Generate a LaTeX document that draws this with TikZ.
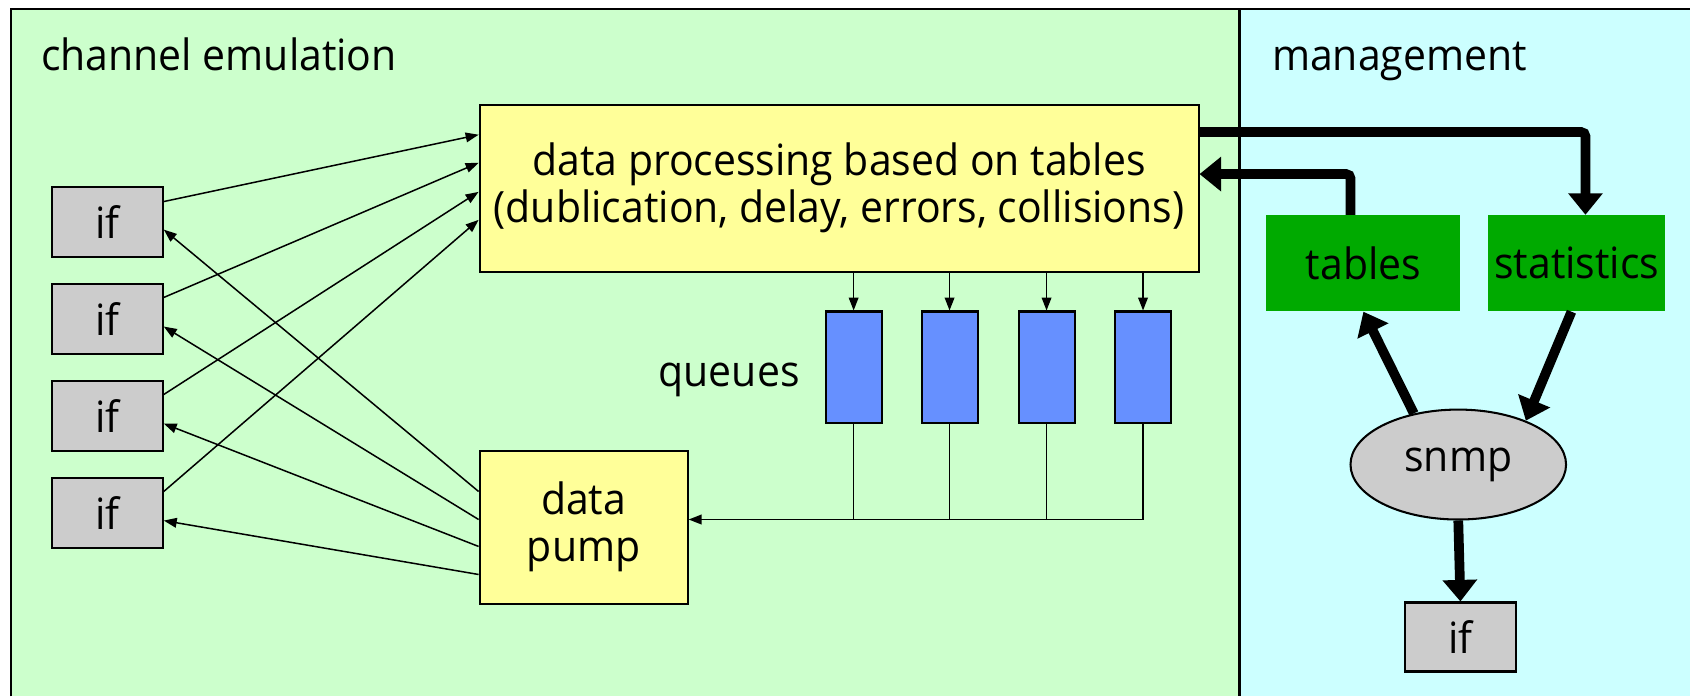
\documentclass[tikz,border=0pt]{standalone}
\usepackage{fontspec}
\setmainfont{Open Sans}[FakeStretch=0.95]
\usetikzlibrary{arrows.meta,shapes.geometric,calc}
\definecolor{emugreen}{HTML}{CCFFCC}
\definecolor{mgmtcyan}{HTML}{CCFFFF}
\definecolor{procyellow}{HTML}{FFFF99}
\definecolor{ifgray}{HTML}{CCCCCC}
\definecolor{queueblue}{HTML}{6690FF}
\definecolor{tablegreen}{HTML}{00AA00}
\tikzset{
  box/.style={draw, line width=1.9pt, inner sep=0pt, align=center},
  ifbox/.style={box, fill=ifgray, minimum width=103pt, minimum height=65pt},
  queuebox/.style={box, fill=queueblue, minimum width=52pt, minimum height=103.5pt},
  mgmtbox/.style={inner sep=0pt, fill=tablegreen, minimum height=89.5pt},
  label/.style={inner sep=0pt, anchor=base west},
  thinarrow/.style={line width=1.4pt, -{Triangle[length=12pt,width=9pt]}},
  thinline/.style={line width=1.4pt},
  heavyarrow/.style={line width=9pt, -{Triangle[length=20pt,width=31pt]}, rounded corners=4pt},
}
\begin{document}
\begin{tikzpicture}[x=1pt, y=-1pt, font=\fontsize{40}{44}\selectfont]
  \useasboundingbox (0,0) rectangle (1568,646);
  \fill[white] (0,0) rectangle (1568,646);
  % the two panels
  \fill[emugreen] (10,8) rectangle (1150,646);
  \fill[mgmtcyan] (1150,8) rectangle (1568,646);
  \draw[line width=2pt] (10,646) -- (10,8) -- (1568,8);
  \draw[line width=2.5pt] (1150,8) -- (1150,646);
  \node[label] (emutitle) at (38,65) {channel emulation};
  \node[label] (mgmttitle) at (1180,65) {management};

  % channel emulation
  \node[ifbox] (if1) at (99.5,206) {if};
  \node[ifbox] (if2) at (99.5,296) {if};
  \node[ifbox] (if3) at (99.5,386) {if};
  \node[ifbox] (if4) at (99.5,476) {if};
  \node[box, fill=procyellow, minimum width=667pt, minimum height=155pt] (proc) at (778.5,174.5)
    {data processing based on tables\\(dublication, delay, errors, collisions)};
  \node[box, fill=procyellow, minimum width=193pt, minimum height=142pt] (pump) at (541.5,489)
    {data\\pump};
  \node[queuebox] (q1) at (792,340.75) {};
  \node[queuebox] (q2) at (881,340.75) {};
  \node[queuebox] (q3) at (971,340.75) {};
  \node[queuebox] (q4) at (1060.5,340.75) {};
  \node[inner sep=0pt, anchor=base east] (qlabel) at (742,359) {queues};

  \draw[thinarrow] ([yshift=19pt]if1.east) -- ([yshift=49.5pt]proc.west);
  \draw[thinarrow] ([yshift=20pt]if2.east) -- ([yshift=23.5pt]proc.west);
  \draw[thinarrow] ([yshift=20pt]if3.east) -- ([yshift=-3.5pt]proc.west);
  \draw[thinarrow] ([yshift=20pt]if4.east) -- ([yshift=-29.5pt]proc.west);
  \draw[thinarrow] ([yshift=33pt]pump.west) -- ([yshift=-7pt]if1.east);
  \draw[thinarrow] ([yshift=7pt]pump.west) -- ([yshift=-7pt]if2.east);
  \draw[thinarrow] ([yshift=-18pt]pump.west) -- ([yshift=-7pt]if3.east);
  \draw[thinarrow] ([yshift=-44pt]pump.west) -- ([yshift=-7pt]if4.east);

  \foreach \q in {q1,q2,q3,q4}
    \draw[thinarrow] (proc.south -| \q.north) -- (\q.north);
  \coordinate (bus) at ([yshift=7pt]pump.east);
  \draw[thinarrow] (q4.south) |- (bus);
  \foreach \q in {q1,q2,q3}
    \draw[thinline] (\q.south) -- (\q.south |- bus);

  % management
  \node[mgmtbox, minimum width=180pt] (tables) at (1265,244.25) {tables};
  \node[mgmtbox, minimum width=164pt] (stats) at (1463,244.25) {statistics};
  \node[box, ellipse, fill=ifgray, minimum width=200pt, minimum height=102pt] (snmp) at (1353,431) {snmp};
  \node[ifbox, minimum height=64pt] (if5) at (1355,591) {if};

  \draw[heavyarrow] ([yshift=52pt]proc.east) -| ([xshift=8pt]stats.north);
  \draw[heavyarrow] ([xshift=-12pt]tables.north) |- ([yshift=13pt]proc.east);
  \draw[heavyarrow] (snmp.131.5) -- (tables.south);
  \draw[heavyarrow] ([xshift=-5pt]stats.south) -- (snmp.33);
  \draw[heavyarrow] (snmp.south) -- (if5.north);
\end{tikzpicture}
\end{document}
